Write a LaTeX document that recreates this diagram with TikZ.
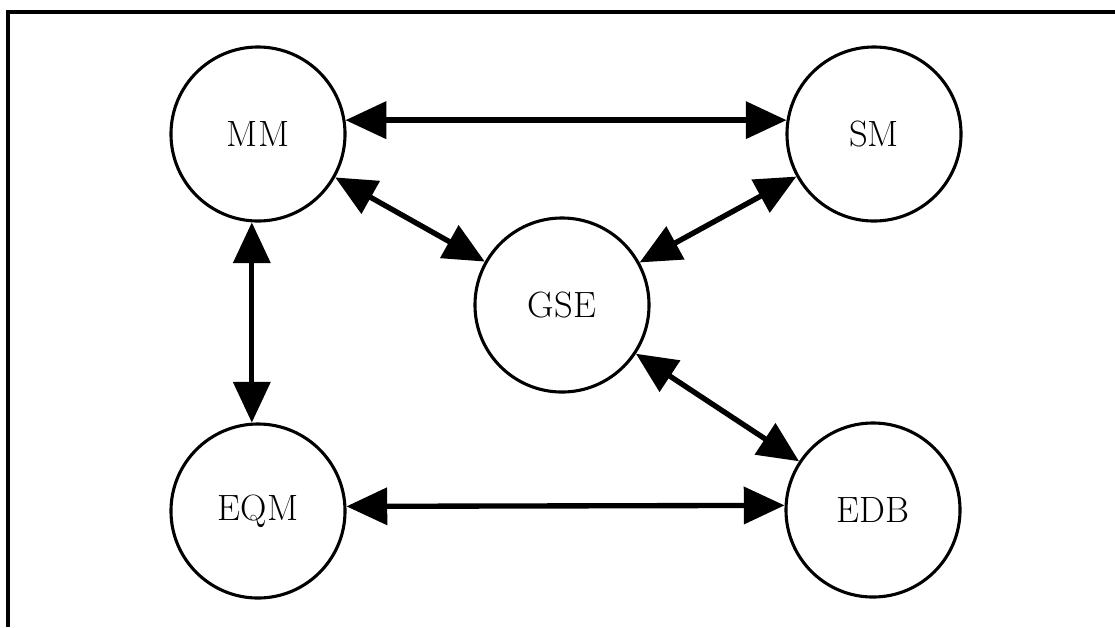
\documentclass[tikz,border=0pt]{standalone}
\usepackage{fontspec}
\usepackage{tikz}
\usetikzlibrary{arrows.meta}

\tikzset{
  module/.style={draw, circle, line width=2.2pt, minimum size=4.35cm, inner sep=0pt,
    font=\fontsize{26}{31}\selectfont},
  link/.style={line width=3.8pt, {Triangle[length=29pt,width=26pt]}-{Triangle[length=29pt,width=26pt]}}
}

\begin{document}
\begin{tikzpicture}[x=0.025cm, y=-0.025cm]
\useasboundingbox (0,0) rectangle (1115,627);

% Frame
\draw[line width=2.4pt] (8,627) -- (8,12) -- (1115,12);

% Modules
\node[module] (mm)  at (258,134) {MM};
\node[module] (sm)  at (874,134) {SM};
\node[module] (gse) at (562,305) {GSE};
\node[module] (eqm) at (258,511) {EQM};
\node[module] (edb) at (873,510) {EDB};

% Links
\draw[link] (mm.9) -- (sm.171);
\draw[link] (eqm.3) -- (edb.177);
\draw[link] (mm.266) -- (eqm.94);
\draw[link] (mm) -- (gse);
\draw[link] (gse) -- (sm);
\draw[link] (gse) -- (edb);
\end{tikzpicture}
\end{document}
